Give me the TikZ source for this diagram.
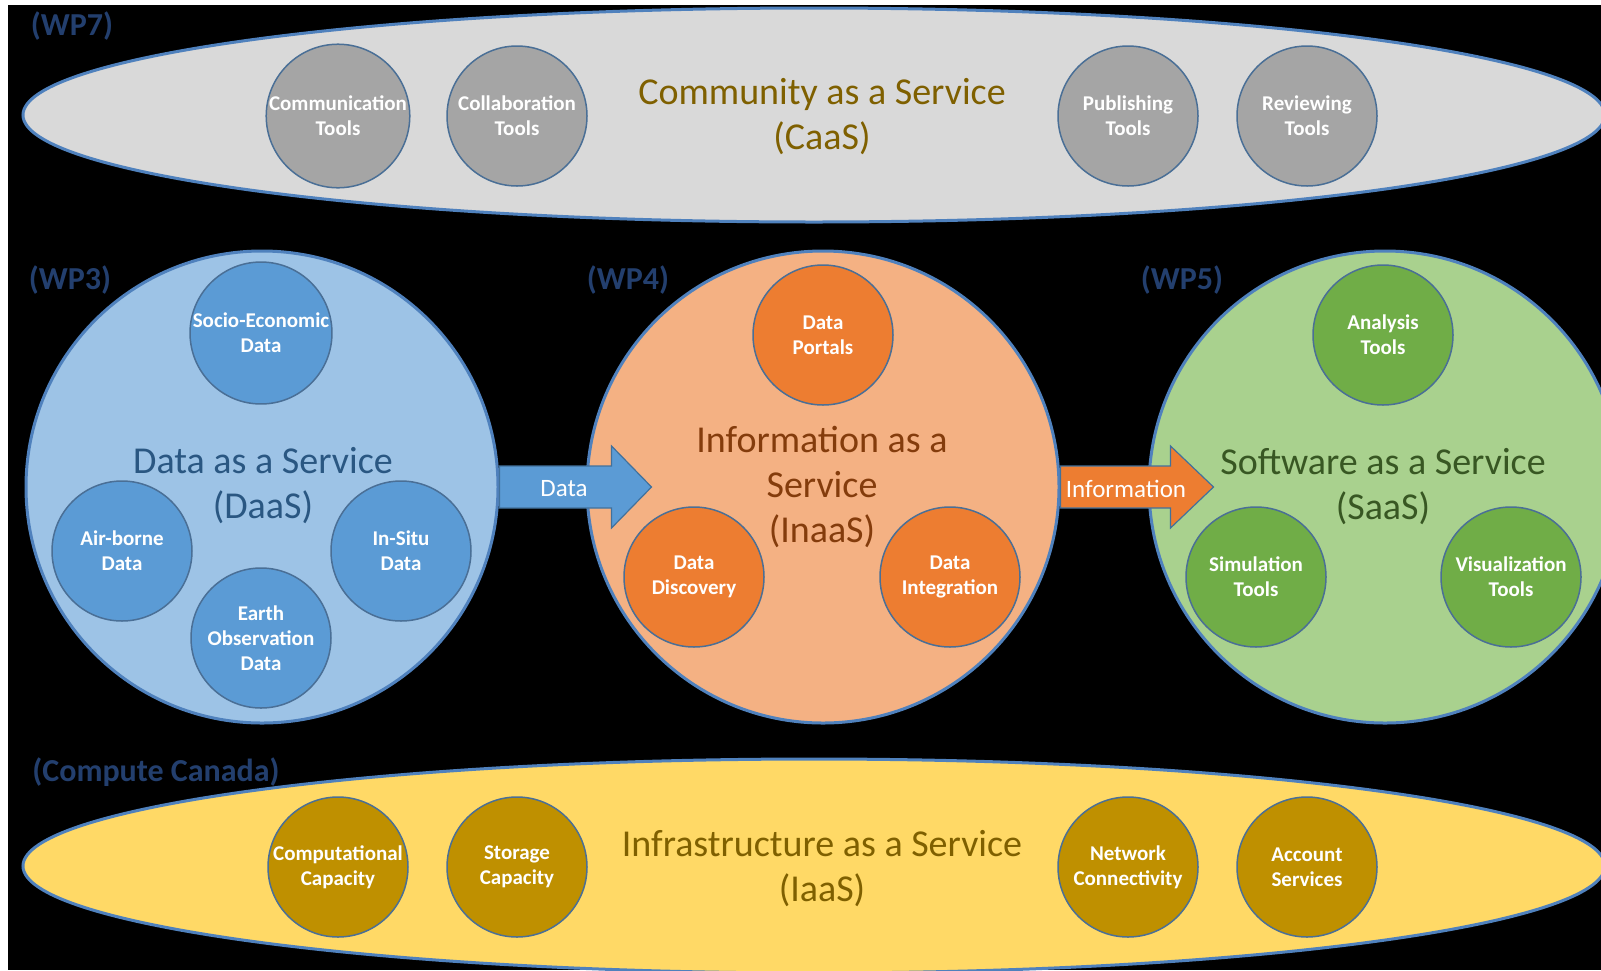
\documentclass[tikz,border=0pt]{standalone}
\usepackage{fontspec}
\setmainfont{Carlito}
\usetikzlibrary{shapes.geometric,calc}
\definecolor{bigedge}{HTML}{4F81BD}
\definecolor{smalledge}{HTML}{4A6F96}
\definecolor{caasfill}{HTML}{D9D9D9}
\definecolor{caassmall}{HTML}{A5A5A5}
\definecolor{caastext}{HTML}{7F6000}
\definecolor{daasfill}{HTML}{9DC3E6}
\definecolor{daassmall}{HTML}{5B9BD5}
\definecolor{daastext}{HTML}{2A5782}
\definecolor{inaasfill}{HTML}{F4B183}
\definecolor{inaassmall}{HTML}{ED7D31}
\definecolor{inaastext}{HTML}{843C0C}
\definecolor{saasfill}{HTML}{A9D18E}
\definecolor{saassmall}{HTML}{70AD47}
\definecolor{saastext}{HTML}{385723}
\definecolor{iaasfill}{HTML}{FFD966}
\definecolor{iaassmall}{HTML}{BF9000}
\definecolor{iaastext}{HTML}{7F6000}
\definecolor{wpc}{HTML}{233F6E}
\definecolor{arrowedge}{HTML}{41719C}
\begin{document}
\begin{tikzpicture}[x=1pt,y=-1pt,
  bigtitle/.style={font=\fontsize{38}{45}\selectfont, align=center, inner sep=0},
  smallc/.style={circle, minimum size=140pt, inner sep=0, draw=smalledge, line width=1.5pt, text=white, font=\bfseries\fontsize{21}{25}\selectfont, align=center},
  band/.style={ellipse, minimum width=1582pt, minimum height=214pt, inner sep=0, draw=bigedge, line width=3pt},
  bigc/.style={circle, minimum size=472pt, inner sep=0, draw=bigedge, line width=3pt},
  wp/.style={font=\bfseries\fontsize{32}{38}\selectfont, text=wpc, inner sep=0},
  arrowlbl/.style={font=\fontsize{25}{30}\selectfont, text=white, inner sep=0},
  blockarrow/.style={draw=arrowedge, line width=1.2pt, line join=miter}
]
\useasboundingbox (0,0) rectangle (1601,970);
\clip (0,0) rectangle (1601,970);
\fill[black] (0,0) rectangle (1601,970);

% Community as a Service
\node[band, fill=caasfill] (caas) at (814,115) {};
\node[bigtitle, text=caastext] (caastitle) at (822,117) {Community as a Service\\(CaaS)};
\node[smallc, fill=caassmall] (comm) at (338,116) {Communication\\Tools};
\node[smallc, fill=caassmall] (collab) at (517,116) {Collaboration\\Tools};
\node[smallc, fill=caassmall] (publ) at (1128,116) {Publishing\\Tools};
\node[smallc, fill=caassmall] (review) at (1307,116) {Reviewing\\Tools};

% Infrastructure as a Service
\node[band, fill=iaasfill] (iaas) at (814,866) {};
\node[bigtitle, text=iaastext] (iaastitle) at (822,869) {Infrastructure as a Service\\(IaaS)};
\node[smallc, fill=iaassmall] (comp) at (338,867) {Computational\\Capacity};
\node[smallc, fill=iaassmall] (stor) at (517,867) {Storage\\Capacity};
\node[smallc, fill=iaassmall] (netw) at (1128,867) {Network\\Connectivity};
\node[smallc, fill=iaassmall] (acct) at (1307,867) {Account\\Services};

% big circles
\node[bigc, fill=daasfill] (daas) at (262,487) {};
\node[bigc, fill=inaasfill] (inaas) at (823,487) {};
\node[bigc, fill=saasfill] (saas) at (1385,487) {};

% arrows
\coordinate (dtip) at ($(inaas.west)+(66,0)$);
\coordinate (itip) at ($(saas.west)+(66,0)$);
\path[blockarrow, fill=daassmall] ($(daas.east)+(0,-21)$) -- ($(dtip)+(-40,-21)$) -- ($(dtip)+(-40,-41)$) -- (dtip) -- ($(dtip)+(-40,41)$) -- ($(dtip)+(-40,21)$) -- ($(daas.east)+(0,21)$) -- cycle;
\path[blockarrow, fill=inaassmall] ($(inaas.east)+(0,-21)$) -- ($(itip)+(-43,-21)$) -- ($(itip)+(-43,-41)$) -- (itip) -- ($(itip)+(-43,41)$) -- ($(itip)+(-43,21)$) -- ($(inaas.east)+(0,21)$) -- cycle;
\node[arrowlbl] (datalbl) at (564,489) {Data};
\node[arrowlbl] (infolbl) at (1126,489) {Information};

% Data as a Service
\node[bigtitle, text=daastext] (daastitle) at (263,486) {Data as a Service\\(DaaS)};
\node[smallc, fill=daassmall] (socio) at (261,333) {Socio-Economic\\Data};
\node[smallc, fill=daassmall] (air) at (122,551) {Air-borne\\Data};
\node[smallc, fill=daassmall] (insitu) at (401,551) {In-Situ\\Data};
\node[smallc, fill=daassmall] (earth) at (261,638) {Earth\\Observation\\Data};

% Information as a Service
\node[bigtitle, text=inaastext] (inaastitle) at (822,487) {Information as a\\Service\\(InaaS)};
\node[smallc, fill=inaassmall] (portals) at (823,335) {Data\\Portals};
\node[smallc, fill=inaassmall] (disc) at (694,577) {Data\\Discovery};
\node[smallc, fill=inaassmall] (integ) at (950,577) {Data\\Integration};

% Software as a Service
\node[bigtitle, text=saastext] (saastitle) at (1383,487) {Software as a Service\\(SaaS)};
\node[smallc, fill=saassmall] (anal) at (1383,335) {Analysis\\Tools};
\node[smallc, fill=saassmall] (sim) at (1256,577) {Simulation\\Tools};
\node[smallc, fill=saassmall] (vis) at (1511,577) {Visualization\\Tools};

% work package labels
\node[wp] (wp7) at (72,26) {(WP7)};
\node[wp] (wp3) at (70,280) {(WP3)};
\node[wp] (wp4) at (628,280) {(WP4)};
\node[wp] (wp5) at (1182,280) {(WP5)};
\node[wp] (cc) at (156,772) {(Compute Canada)};

% white margins
\fill[white] (0,0) rectangle (1601,5);
\fill[white] (0,0) rectangle (8,970);
\end{tikzpicture}
\end{document}
